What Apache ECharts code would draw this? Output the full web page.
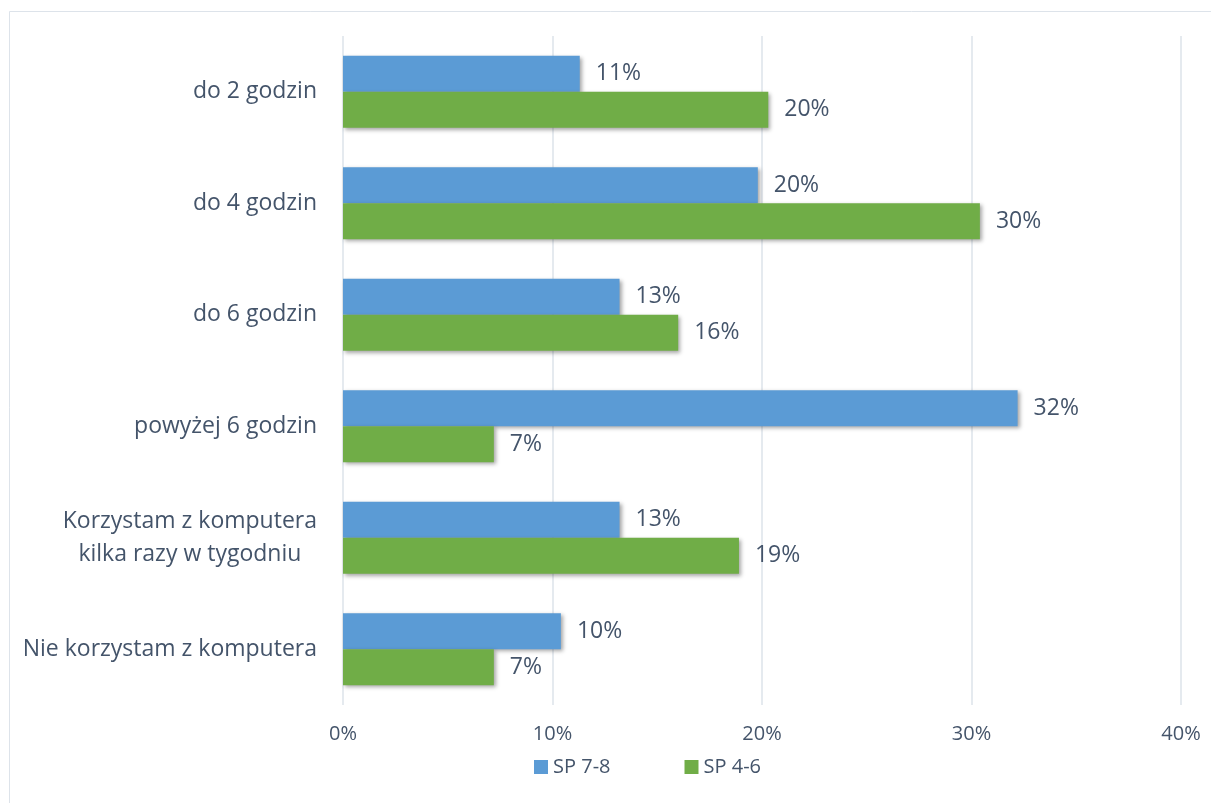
<!DOCTYPE html>
<html>
<head>
<meta charset="utf-8">
<script src="https://cdn.jsdelivr.net/npm/echarts@6/dist/echarts.min.js"></script>
<style>html,body{margin:0;padding:0;background:#fff;}#chart{width:1211px;height:803px;}</style>
</head>
<body>
<div id="chart"></div>
<script>
// Categories listed bottom-to-top (ECharts category y-axis starts at bottom)
const categories = [
  'Nie korzystam z komputera',
  'Korzystam z komputera\nkilka razy w tygodniu',
  'powyżej 6 godzin',
  'do 6 godzin',
  'do 4 godzin',
  'do 2 godzin'
];
const seriesNames = ['SP 7-8', 'SP 4-6'];
const sp78 = [0.104, 0.132, 0.322, 0.132, 0.198, 0.113];
const sp46 = [0.072, 0.189, 0.072, 0.160, 0.304, 0.203];
const xTicks = [0, 0.1, 0.2, 0.3, 0.4];

const FONT = '"Open Sans"';
const TXT = '#44546A';
const chart = echarts.init(document.getElementById('chart'), null, {renderer: 'canvas'});
const pct = v => Math.round(v * 100) + '%';
const barStyle = color => ({
  color: color,
  shadowColor: 'rgba(0,0,0,0.35)',
  shadowBlur: 4,
  shadowOffsetX: 2,
  shadowOffsetY: 2
});
chart.setOption({
  animation: false,
  backgroundColor: '#fff',
  graphic: [{
    type: 'rect',
    shape: {x: 9.5, y: 11.5, width: 1300, height: 900},
    style: {fill: 'none', stroke: '#dde3ea', lineWidth: 1},
    silent: true, z: -1
  }],
  grid: {left: 343, right: 30, top: 36, bottom: 98, containLabel: false},
  legend: {
    data: seriesNames,
    top: 755,
    left: 534,
    padding: 0,
    itemWidth: 14, itemHeight: 14, itemGap: 74,
    icon: 'rect',
    textStyle: {color: TXT, fontFamily: FONT, fontSize: 20, lineHeight: 24}
  },
  xAxis: {
    type: 'value',
    min: xTicks[0], max: xTicks[xTicks.length - 1], interval: 0.1,
    axisLine: {show: false}, axisTick: {show: false},
    splitLine: {lineStyle: {color: '#dde3ea', width: 1.5}},
    axisLabel: {formatter: pct, color: TXT, fontFamily: FONT, fontSize: 20, margin: 19}
  },
  yAxis: {
    type: 'category',
    data: categories,
    axisLine: {show: false}, axisTick: {show: false},
    axisLabel: {
      color: TXT, fontFamily: FONT, fontSize: 23, margin: 26, lineHeight: 33,
      formatter: v => v.split('\n').map(l => '{c|' + l + '}').join('\n'),
      rich: {c: {align: 'center', color: TXT, fontFamily: FONT, fontSize: 23, lineHeight: 33}}
    }
  },
  series: [
    {
      name: seriesNames[0], type: 'bar', data: sp78,
      barWidth: 36, barGap: '0%', barCategoryGap: '36%',
      itemStyle: barStyle('#5B9BD5'),
      label: {show: true, position: 'right', distance: 16, formatter: p => pct(p.value),
        color: TXT, fontFamily: FONT, fontSize: 23}
    },
    {
      name: seriesNames[1], type: 'bar', data: sp46,
      barWidth: 36, barGap: '0%',
      itemStyle: barStyle('#70AD47'),
      label: {show: true, position: 'right', distance: 16, formatter: p => pct(p.value),
        color: TXT, fontFamily: FONT, fontSize: 23}
    }
  ]
});
</script>
</body>
</html>
